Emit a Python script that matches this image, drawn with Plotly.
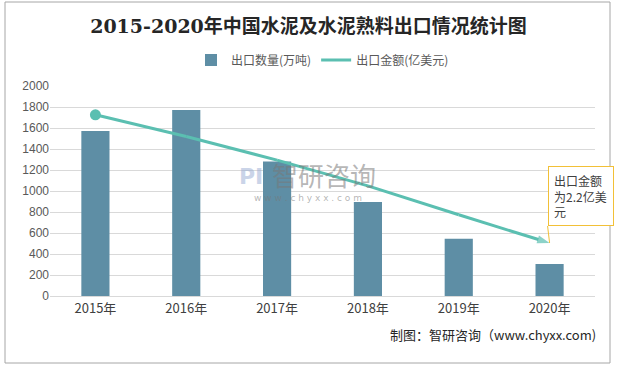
import plotly.graph_objects as go

years = ["2015年", "2016年", "2017年", "2018年", "2019年", "2020年"]
volume = [1571, 1772, 1280, 895, 545, 305]          # 出口数量(万吨)
value = [7.52, 6.62, 5.64, 4.57, 3.37, 2.2]         # 出口金额(亿美元)
yticks = [0, 200, 400, 600, 800, 1000, 1200, 1400, 1600, 1800, 2000]

W, H = 617, 368
L, R, T, B = 50, 22, 86, 72
pw, ph = W - L - R, H - T - B

def px(x):
    return (x - L) / pw

def py(y):
    return (H - B - y) / ph

cjk = "Noto Sans CJK SC, Microsoft YaHei, sans-serif"
serif = "DejaVu Serif, Noto Sans CJK SC, serif"
teal = "#5BBFB1"

fig = go.Figure()
fig.add_trace(go.Bar(
    x=years, y=volume, name="出口数量(万吨)",
    marker=dict(color="#5E8EA5", line=dict(width=0)),
))
n = len(years)
fig.add_trace(go.Scatter(
    x=years, y=value, name="出口金额(亿美元)", yaxis="y2",
    mode="lines+markers",
    line=dict(color=teal, width=3),
    marker=dict(
        color=teal,
        symbol=["arrow"] * n,
        size=[0] * (n - 1) + [13],
        angleref="previous",
        line=dict(width=0),
    ),
))
fig.add_trace(go.Scatter(
    x=years[:1], y=value[:1], yaxis="y2", mode="markers", showlegend=False,
    marker=dict(color=teal, symbol="circle", size=11, line=dict(width=0)),
    hoverinfo="skip",
))

fig.update_layout(
    width=W, height=H,
    margin=dict(l=L, r=R, t=T, b=B, autoexpand=False),
    paper_bgcolor="white", plot_bgcolor="white",
    bargap=0.69,
    showlegend=True,
    legend=dict(orientation="h", x=0.5, xanchor="center", y=1.0 + 26 / ph, yanchor="middle",
                font=dict(family=cjk, size=12, color="#595959"),
                traceorder="normal"),
    title=dict(text="<b>2015-2020年中国水泥及水泥熟料出口情况统计图</b>",
               x=0.5, xanchor="center", y=1 - 26 / H, yanchor="middle",
               font=dict(family=serif, size=19, color="#262626")),
    xaxis=dict(range=[-0.5, len(years) - 0.5], showline=True, linecolor="#D9D9D9", linewidth=1, ticks="",
               tickfont=dict(family=cjk, size=13, color="#404040")),
    yaxis=dict(range=[0, 2000], tickvals=yticks, showgrid=True, gridcolor="#D9D9D9",
               zeroline=False, ticks="", showline=False,
               tickfont=dict(family="Liberation Sans, Arial, sans-serif", size=12, color="#595959")),
    yaxis2=dict(range=[0, 2000 / 229.5], overlaying="y", side="right", visible=False),
    shapes=[dict(type="rect", xref="paper", yref="paper",
                 x0=px(5), x1=px(610), y0=py(363), y1=py(2),
                 line=dict(color="#A6A6A6", width=1), fillcolor="rgba(0,0,0,0)", layer="below")],
)

# watermark
fig.add_annotation(xref="paper", yref="paper", x=px(324), y=py(174), text="智研咨询",
                   showarrow=False, font=dict(family=cjk, size=26, color="rgba(120,120,120,0.55)"))
fig.add_annotation(xref="paper", yref="paper", x=px(251), y=py(176), text="<b>PI</b>",
                   showarrow=False, font=dict(family="DejaVu Sans", size=22, color="rgba(150,170,210,0.5)"))
fig.add_annotation(xref="paper", yref="paper", x=px(308), y=py(198), text="w w w . c h y x x . c o m",
                   showarrow=False, font=dict(family="DejaVu Sans", size=9, color="rgba(120,120,120,0.55)"))

# callout
fig.add_annotation(x=years[-1], y=value[-1], yref="y2",
                   text="出口金额<br>为2.2亿美<br>元", align="left",
                   showarrow=True, arrowhead=0, arrowcolor="#F2C037", arrowwidth=1,
                   ax=-2, ay=-17, xanchor="left", yanchor="bottom",
                   bordercolor="#F2C037", borderwidth=1, borderpad=5, bgcolor="white",
                   font=dict(family=cjk, size=12, color="#404040"), width=54)

# footer
fig.add_annotation(xref="paper", yref="paper", x=px(598), y=py(346), xanchor="right",
                   text="制图：智研咨询（www.chyxx.com)", showarrow=False,
                   font=dict(family=cjk, size=13, color="#262626"))

fig.write_html("out.html", post_script="document.body.style.margin='0';",
               config={"displayModeBar": False})
